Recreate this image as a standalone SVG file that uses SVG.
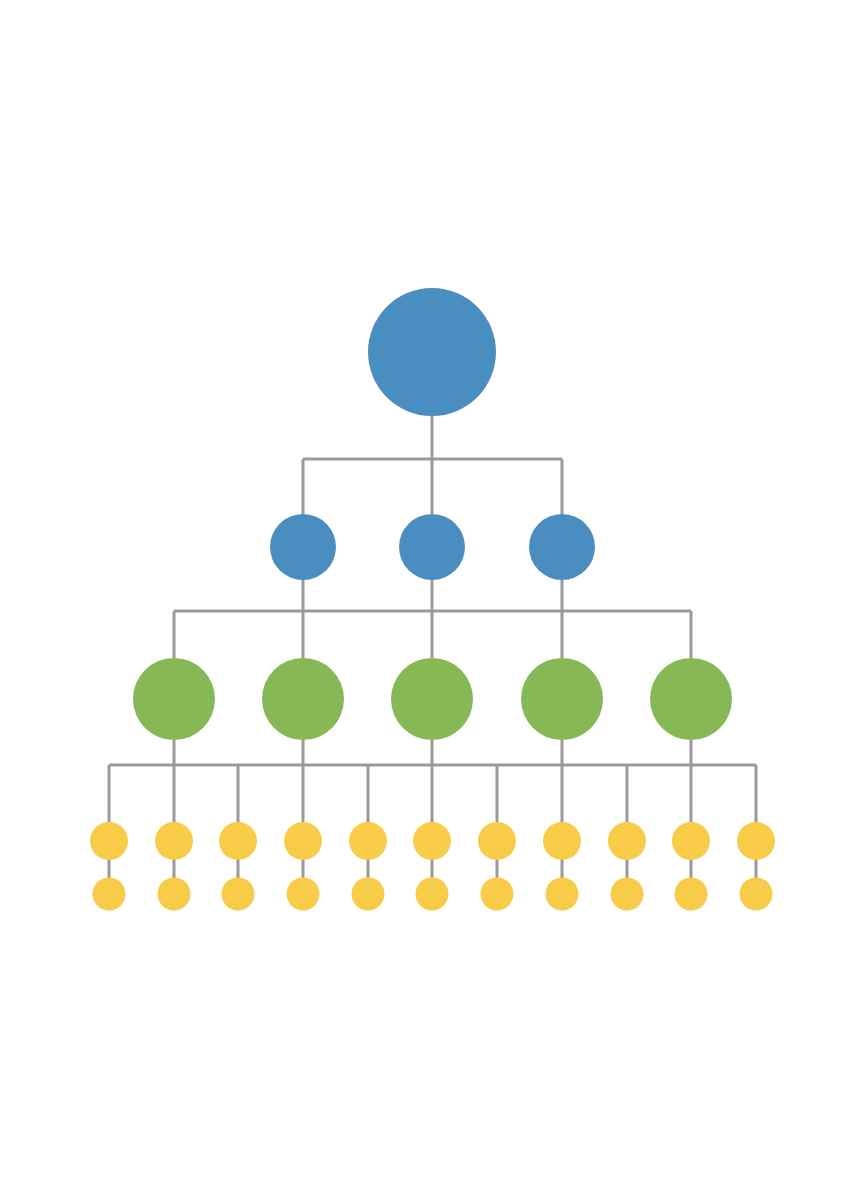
<svg xmlns="http://www.w3.org/2000/svg" width="864" height="1184" viewBox="0 0 864 1184">
<style>
.c{stroke:#9a9a9a;stroke-width:3;fill:none}
.b{fill:#4a8dc0}
.g{fill:#86b955}
.y{fill:#f8cb48}
</style>
<rect width="864" height="1184" fill="#fff"/>
<g id="connectors" class="c">
<path d="M432 416V459M303 459H562M303 459V514M432 459V514M562 459V514"/>
<path d="M303 580V611M432 580V611M562 580V611M174 611H691M174 611V658M303 611V658M432 611V658M562 611V658M691 611V658"/>
<path d="M174 740V765M303 740V765M432 740V765M562 740V765M691 740V765M109 765H756"/>
<path d="M109 765V822M174 765V822M238 765V822M303 765V822M368 765V822M432 765V822M497 765V822M562 765V822M627 765V822M691 765V822M756 765V822"/>
<path d="M109 858V878M174 858V878M238 858V878M303 858V878M368 858V878M432 858V878M497 858V878M562 858V878M627 858V878M691 858V878M756 858V878"/>
</g>
<g id="root"><circle class="b" cx="432" cy="352" r="64"/></g>
<g id="l2a"><circle class="b" cx="303" cy="547" r="33"/></g>
<g id="l2b"><circle class="b" cx="432" cy="547" r="33"/></g>
<g id="l2c"><circle class="b" cx="562" cy="547" r="33"/></g>
<g id="l3a"><circle class="g" cx="174" cy="699" r="41"/></g>
<g id="l3b"><circle class="g" cx="303" cy="699" r="41"/></g>
<g id="l3c"><circle class="g" cx="432" cy="699" r="41"/></g>
<g id="l3d"><circle class="g" cx="562" cy="699" r="41"/></g>
<g id="l3e"><circle class="g" cx="691" cy="699" r="41"/></g>
<g id="y1a"><circle class="y" cx="109" cy="841" r="19"/></g>
<g id="y1b"><circle class="y" cx="174" cy="841" r="19"/></g>
<g id="y1c"><circle class="y" cx="238" cy="841" r="19"/></g>
<g id="y1d"><circle class="y" cx="303" cy="841" r="19"/></g>
<g id="y1e"><circle class="y" cx="368" cy="841" r="19"/></g>
<g id="y1f"><circle class="y" cx="432" cy="841" r="19"/></g>
<g id="y1g"><circle class="y" cx="497" cy="841" r="19"/></g>
<g id="y1h"><circle class="y" cx="562" cy="841" r="19"/></g>
<g id="y1i"><circle class="y" cx="627" cy="841" r="19"/></g>
<g id="y1j"><circle class="y" cx="691" cy="841" r="19"/></g>
<g id="y1k"><circle class="y" cx="756" cy="841" r="19"/></g>
<g id="y2a"><circle class="y" cx="109" cy="894" r="16.5"/></g>
<g id="y2b"><circle class="y" cx="174" cy="894" r="16.5"/></g>
<g id="y2c"><circle class="y" cx="238" cy="894" r="16.5"/></g>
<g id="y2d"><circle class="y" cx="303" cy="894" r="16.5"/></g>
<g id="y2e"><circle class="y" cx="368" cy="894" r="16.5"/></g>
<g id="y2f"><circle class="y" cx="432" cy="894" r="16.5"/></g>
<g id="y2g"><circle class="y" cx="497" cy="894" r="16.5"/></g>
<g id="y2h"><circle class="y" cx="562" cy="894" r="16.5"/></g>
<g id="y2i"><circle class="y" cx="627" cy="894" r="16.5"/></g>
<g id="y2j"><circle class="y" cx="691" cy="894" r="16.5"/></g>
<g id="y2k"><circle class="y" cx="756" cy="894" r="16.5"/></g>
</svg>
